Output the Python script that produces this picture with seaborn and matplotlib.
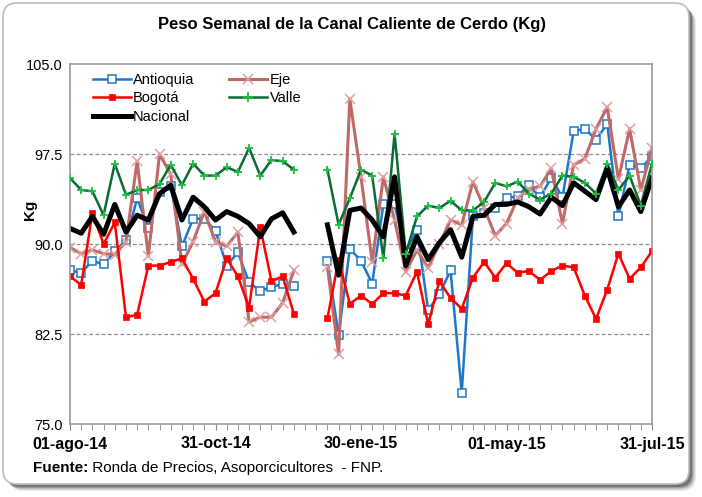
import matplotlib
matplotlib.use("Agg")
import matplotlib.pyplot as plt
from matplotlib.patches import FancyBboxPatch
from matplotlib.ticker import MultipleLocator
import numpy as np
import pandas as pd
import seaborn as sns

nan = np.nan

# weekly series, 01-ago-14 .. 31-jul-15 (two holiday weeks missing)
antioquia = [87.8, 87.6, 88.6, 88.3, 89.4, 90.3, 93.8, 91.3, 94.3, 94.8,
             89.8, 92.1, 92.1, 91.1, 88.2, 89.3, 86.8, 86.1, 86.4, 86.7,
             86.5, nan, nan, 88.6, 82.4, 89.6, 88.6, 86.7, 93.3, 93.3,
             89.3, 91.2, 84.5, 85.8, 87.8, 77.6, 92.3, 92.6, 93.0, 93.8,
             94.0, 94.9, 93.9, 95.5, 93.9, 99.4, 99.6, 98.7, 100.0, 92.3,
             96.6, 96.3, 97.3]
eje = [89.7, 89.2, 89.5, 89.2, 89.1, 90.2, 96.9, 89.0, 97.5, 95.8,
       88.3, 90.2, 92.7, 90.2, 89.8, 91.0, 83.5, 83.9, 83.9, 85.1,
       87.8, nan, nan, 88.1, 80.8, 102.1, 95.6, 88.5, 95.6, 92.0,
       87.7, 89.5, 88.0, 90.0, 92.0, 91.6, 95.2, 93.0, 90.7, 91.7,
       93.8, 94.6, 94.8, 96.3, 91.7, 96.6, 97.1, 99.6, 101.4, 95.4,
       99.6, 94.5, 98.0]
bogota = [87.3, 86.6, 92.6, 90.0, 91.8, 83.9, 84.1, 88.2, 88.2, 88.5,
          88.8, 87.1, 85.2, 85.9, 88.8, 87.3, 84.7, 91.4, 86.9, 87.3,
          84.2, nan, nan, 83.8, 88.7, 85.0, 85.7, 85.0, 85.9, 85.9,
          85.7, 87.7, 83.3, 86.9, 85.5, 84.6, 87.2, 88.5, 87.2, 88.4,
          87.6, 87.75, 87.0, 87.75, 88.2, 88.05, 85.7, 83.75, 86.2, 89.2,
          87.1, 88.05, 89.4]
valle = [95.5, 94.5, 94.4, 92.4, 96.7, 94.1, 94.5, 94.5, 95.0, 96.6,
         94.9, 96.7, 95.7, 95.7, 96.4, 96.0, 98.0, 95.7, 97.0, 96.9,
         96.2, nan, nan, 96.2, 91.6, 93.8, 96.2, 95.7, 88.8, 99.2,
         89.2, 92.3, 93.2, 93.0, 93.6, 92.8, 92.8, 93.5, 95.1, 94.8,
         95.2, 94.2, 93.7, 94.2, 95.7, 95.6, 95.1, 94.2, 96.7, 94.5,
         95.7, 93.2, 96.7]
nacional = [91.3, 90.9, 92.3, 90.8, 93.3, 91.0, 92.4, 92.0, 94.2, 94.9,
            92.0, 93.9, 93.1, 92.0, 92.7, 92.3, 91.7, 90.6, 92.1, 92.6,
            91.0, nan, nan, 91.6, 87.4, 92.8, 93.0, 92.0, 90.6, 95.6,
            88.2, 90.6, 88.7, 90.1, 91.2, 88.9, 92.3, 92.4, 93.3, 93.3,
            93.5, 93.1, 92.5, 93.9, 93.2, 95.1, 94.4, 93.7, 96.3, 93.1,
            94.5, 92.7, 95.5]

tick_weeks = [0, 13, 26, 39, 52]
tick_labels = ["01-ago-14", "31-oct-14", "30-ene-15", "01-may-15", "31-jul-15"]

series = {
    "Antioquia": dict(values=antioquia, color="#1F77C8", lw=1.8, marker="s", ms=5.5,
                      mfc="white", mec="#1F77C8", mew=1.1),
    "Eje": dict(values=eje, color="#C06A68", lw=2.2, marker="x", ms=7,
                mfc="none", mec="#DFA0A0", mew=1.1),
    "Bogotá": dict(values=bogota, color="#FF0000", lw=1.8, marker="s", ms=5,
                   mfc="#FF0000", mec="#FF0000", mew=0.5),
    "Valle": dict(values=valle, color="#0B6B35", lw=1.8, marker=None, ms=0,
                  mfc="none", mec="none", mew=0),
    "Nacional": dict(values=nacional, color="black", lw=3.6, marker=None, ms=0,
                     mfc="none", mec="none", mew=0),
}

df = pd.DataFrame({k: v["values"] for k, v in series.items()})
df["week"] = np.arange(len(df))
df["seg"] = (df["week"] > 21).astype(int)

plt.rcParams["font.family"] = ["Liberation Sans", "DejaVu Sans"]
fig = plt.figure(figsize=(7.02, 4.97), dpi=100)

# chart frame with shadow
bg = fig.add_axes([0, 0, 1, 1], zorder=-1)
bg.set_xlim(0, 702)
bg.set_ylim(497, 0)
bg.axis("off")
for k, a in enumerate([0.10, 0.18, 0.30, 0.45]):
    off = 7 - k * 1.3
    bg.add_patch(FancyBboxPatch((3 + off, 3 + off), 686, 481, boxstyle="round,pad=0,rounding_size=14",
                                fc="#404040", ec="none", alpha=a))
bg.add_patch(FancyBboxPatch((3, 3), 686, 481, boxstyle="round,pad=0,rounding_size=14",
                            fc="white", ec="#BDBDBD", lw=1.2))

ax = fig.add_axes([70 / 702, 1 - 424 / 497, 582 / 702, 360 / 497])
ax.patch.set_alpha(0)

handles = {}
for name, st in series.items():
    d = df[["week", "seg", name]].dropna()
    sns.lineplot(data=d, x="week", y=name, units="seg", estimator=None, ax=ax,
                 color=st["color"], lw=st["lw"], marker=st["marker"], markersize=st["ms"],
                 markerfacecolor=st["mfc"], markeredgecolor=st["mec"], markeredgewidth=st["mew"],
                 legend=False)
    if name == "Valle":
        sns.scatterplot(data=d, x="week", y=name, ax=ax, marker="+", s=38, color="#19C040",
                        linewidth=1.3, legend=False, zorder=3)
    handles[name] = plt.Line2D([], [], color=st["color"], lw=st["lw"],
                               marker="+" if name == "Valle" else st["marker"],
                               markersize=7 if name == "Valle" else st["ms"],
                               markerfacecolor=st["mfc"],
                               markeredgecolor="#19C040" if name == "Valle" else st["mec"],
                               markeredgewidth=1.3 if name == "Valle" else st["mew"])

ax.set_xlim(0, 52)
ax.set_ylim(75, 105)
yt = [75, 82.5, 90, 97.5, 105]
ax.set_yticks(yt)
ax.set_yticklabels([f"{v:.1f}" for v in yt], fontsize=10.5)
ax.set_xticks(tick_weeks)
ax.set_xticklabels(tick_labels, fontsize=11.5, fontweight="bold")
ax.xaxis.set_minor_locator(MultipleLocator(1))
ax.tick_params(axis="x", which="both", direction="out", length=4, color="#868686", pad=5)
ax.tick_params(axis="y", length=0, pad=5)
ax.set_xlabel("")
ax.set_ylabel("")
for s in ax.spines.values():
    s.set_color("#9A9A9A")
    s.set_linewidth(1.2)
for v in [82.5, 90, 97.5]:
    ax.axhline(v, color="#8C8C8C", lw=0.9, ls=(0, (3, 2)), zorder=0)

order = ["Antioquia", "Bogotá", "Nacional", "Eje", "Valle"]
fig.legend([handles[n] for n in order], order, loc="upper left",
           bbox_to_anchor=(93 / 702, 1 - 73 / 497), ncol=2, frameon=False, fontsize=10.5,
           handlelength=2.6, handletextpad=0.15, columnspacing=2.4, labelspacing=0.3,
           borderpad=0, borderaxespad=0)

fig.text(352 / 702, 1 - 25 / 497, "Peso Semanal de la Canal Caliente de Cerdo (Kg)",
         ha="center", va="center", fontsize=12, fontweight="bold")
fig.text(30 / 702, 1 - 210 / 497, "Kg", rotation=90, ha="center", va="center",
         fontsize=11, fontweight="bold")
t = fig.text(33 / 702, 1 - 468 / 497, "Fuente:", ha="left", va="center",
             fontsize=11, fontweight="bold")
ax.annotate(" Ronda de Precios, Asoporcicultores  - FNP.", xy=(1, 0), xycoords=t,
            ha="left", va="bottom", fontsize=11, annotation_clip=False)

fig.savefig("out.png", dpi=100)
